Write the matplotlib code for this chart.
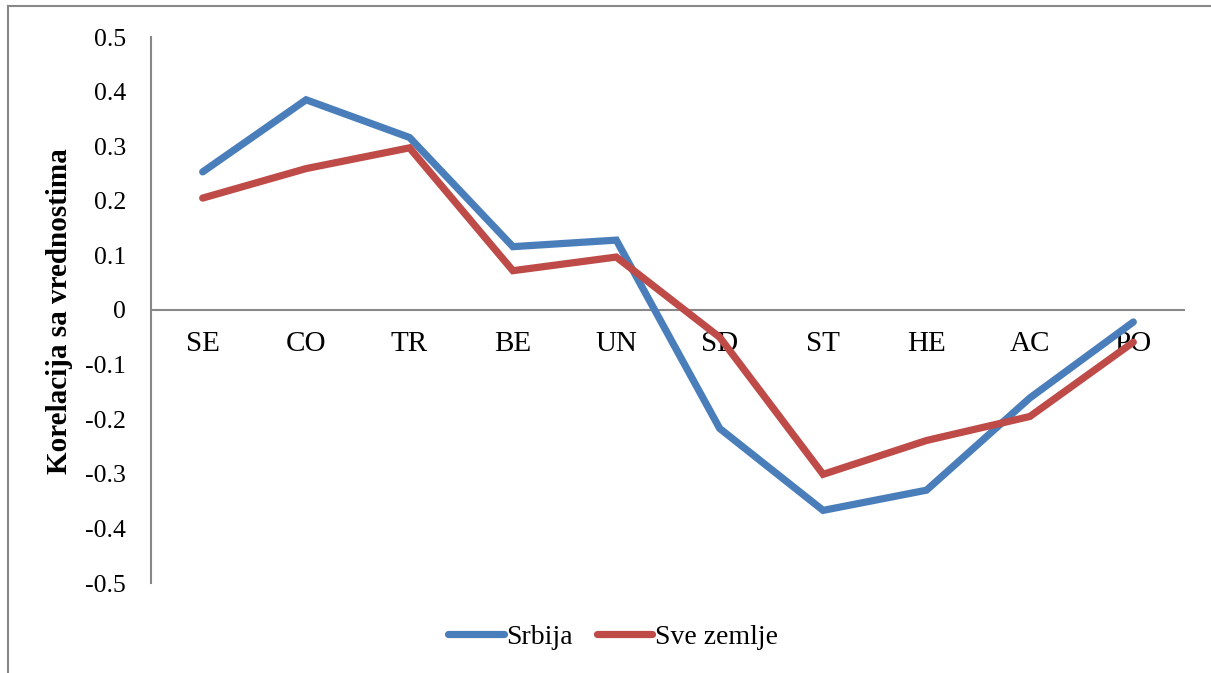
import matplotlib
matplotlib.use("Agg")
import matplotlib.pyplot as plt
from matplotlib.lines import Line2D

categories = ["SE", "CO", "TR", "BE", "UN", "SD", "ST", "HE", "AC", "PO"]
srbija = [0.253, 0.385, 0.316, 0.116, 0.128, -0.217, -0.367, -0.330, -0.161, -0.022]
sve_zemlje = [0.205, 0.259, 0.297, 0.072, 0.097, -0.050, -0.301, -0.239, -0.195, -0.059]
yticks = [0.5, 0.4, 0.3, 0.2, 0.1, 0, -0.1, -0.2, -0.3, -0.4, -0.5]
ytick_labels = ["0.5", "0.4", "0.3", "0.2", "0.1", "0", "-0.1", "-0.2", "-0.3", "-0.4", "-0.5"]

plt.rcParams["font.family"] = ["Liberation Serif", "DejaVu Serif"]

W, H = 1211, 673
fig = plt.figure(figsize=(W / 100, H / 100), dpi=100)

# axes: x 151..1185, y 37..583 (pixels from top)
ax = fig.add_axes([151 / W, 1 - 583 / H, (1185 - 151) / W, (583 - 37) / H])
x = list(range(len(categories)))
blue = "#4A7EBB"
red = "#BE4B48"
ax.plot(x, srbija, color=blue, lw=5.2, solid_capstyle="round", solid_joinstyle="miter", label="Srbija", zorder=3)
ax.plot(x, sve_zemlje, color=red, lw=5.2, solid_capstyle="round", solid_joinstyle="miter", label="Sve zemlje", zorder=3)

ax.set_xlim(-0.5, len(categories) - 0.5)
ax.set_ylim(-0.5, 0.5)
for s in ["top", "right", "bottom"]:
    ax.spines[s].set_visible(False)
ax.spines["left"].set_color("#888888")
ax.spines["left"].set_linewidth(1.5)
ax.axhline(0, color="#888888", lw=1.5, zorder=1)

ax.set_yticks(yticks)
ax.set_yticklabels(ytick_labels, fontsize=18.5)
ax.tick_params(axis="y", length=0, pad=18)
ax.set_xticks([])
for i, c in enumerate(categories):
    ax.text(i, -0.062, c, ha="center", va="center", fontsize=21, zorder=2)

fig.text(60 / W, 1 - 311 / H, "Korelacija sa vrednostima", rotation=90, ha="center", va="center",
         fontweight="bold", fontsize=21)

handles = [Line2D([], [], color=blue, lw=5.2, solid_capstyle="round"),
           Line2D([], [], color=red, lw=5.2, solid_capstyle="round")]
fig.legend(handles, ["Srbija", "Sve zemlje"], loc="center", bbox_to_anchor=(613 / W, 1 - 637 / H),
           ncol=2, frameon=False, fontsize=20, handlelength=2.0,
           handletextpad=0.1, columnspacing=0.85)

# outer frame fragments
fig.add_artist(Line2D([7.5 / W, 7.5 / W], [0, 1 - 5.5 / H], transform=fig.transFigure, color="#888888", lw=1.5))
fig.add_artist(Line2D([7.5 / W, 1], [1 - 5.5 / H, 1 - 5.5 / H], transform=fig.transFigure, color="#888888", lw=1.5))

fig.savefig("out.png", dpi=100)
